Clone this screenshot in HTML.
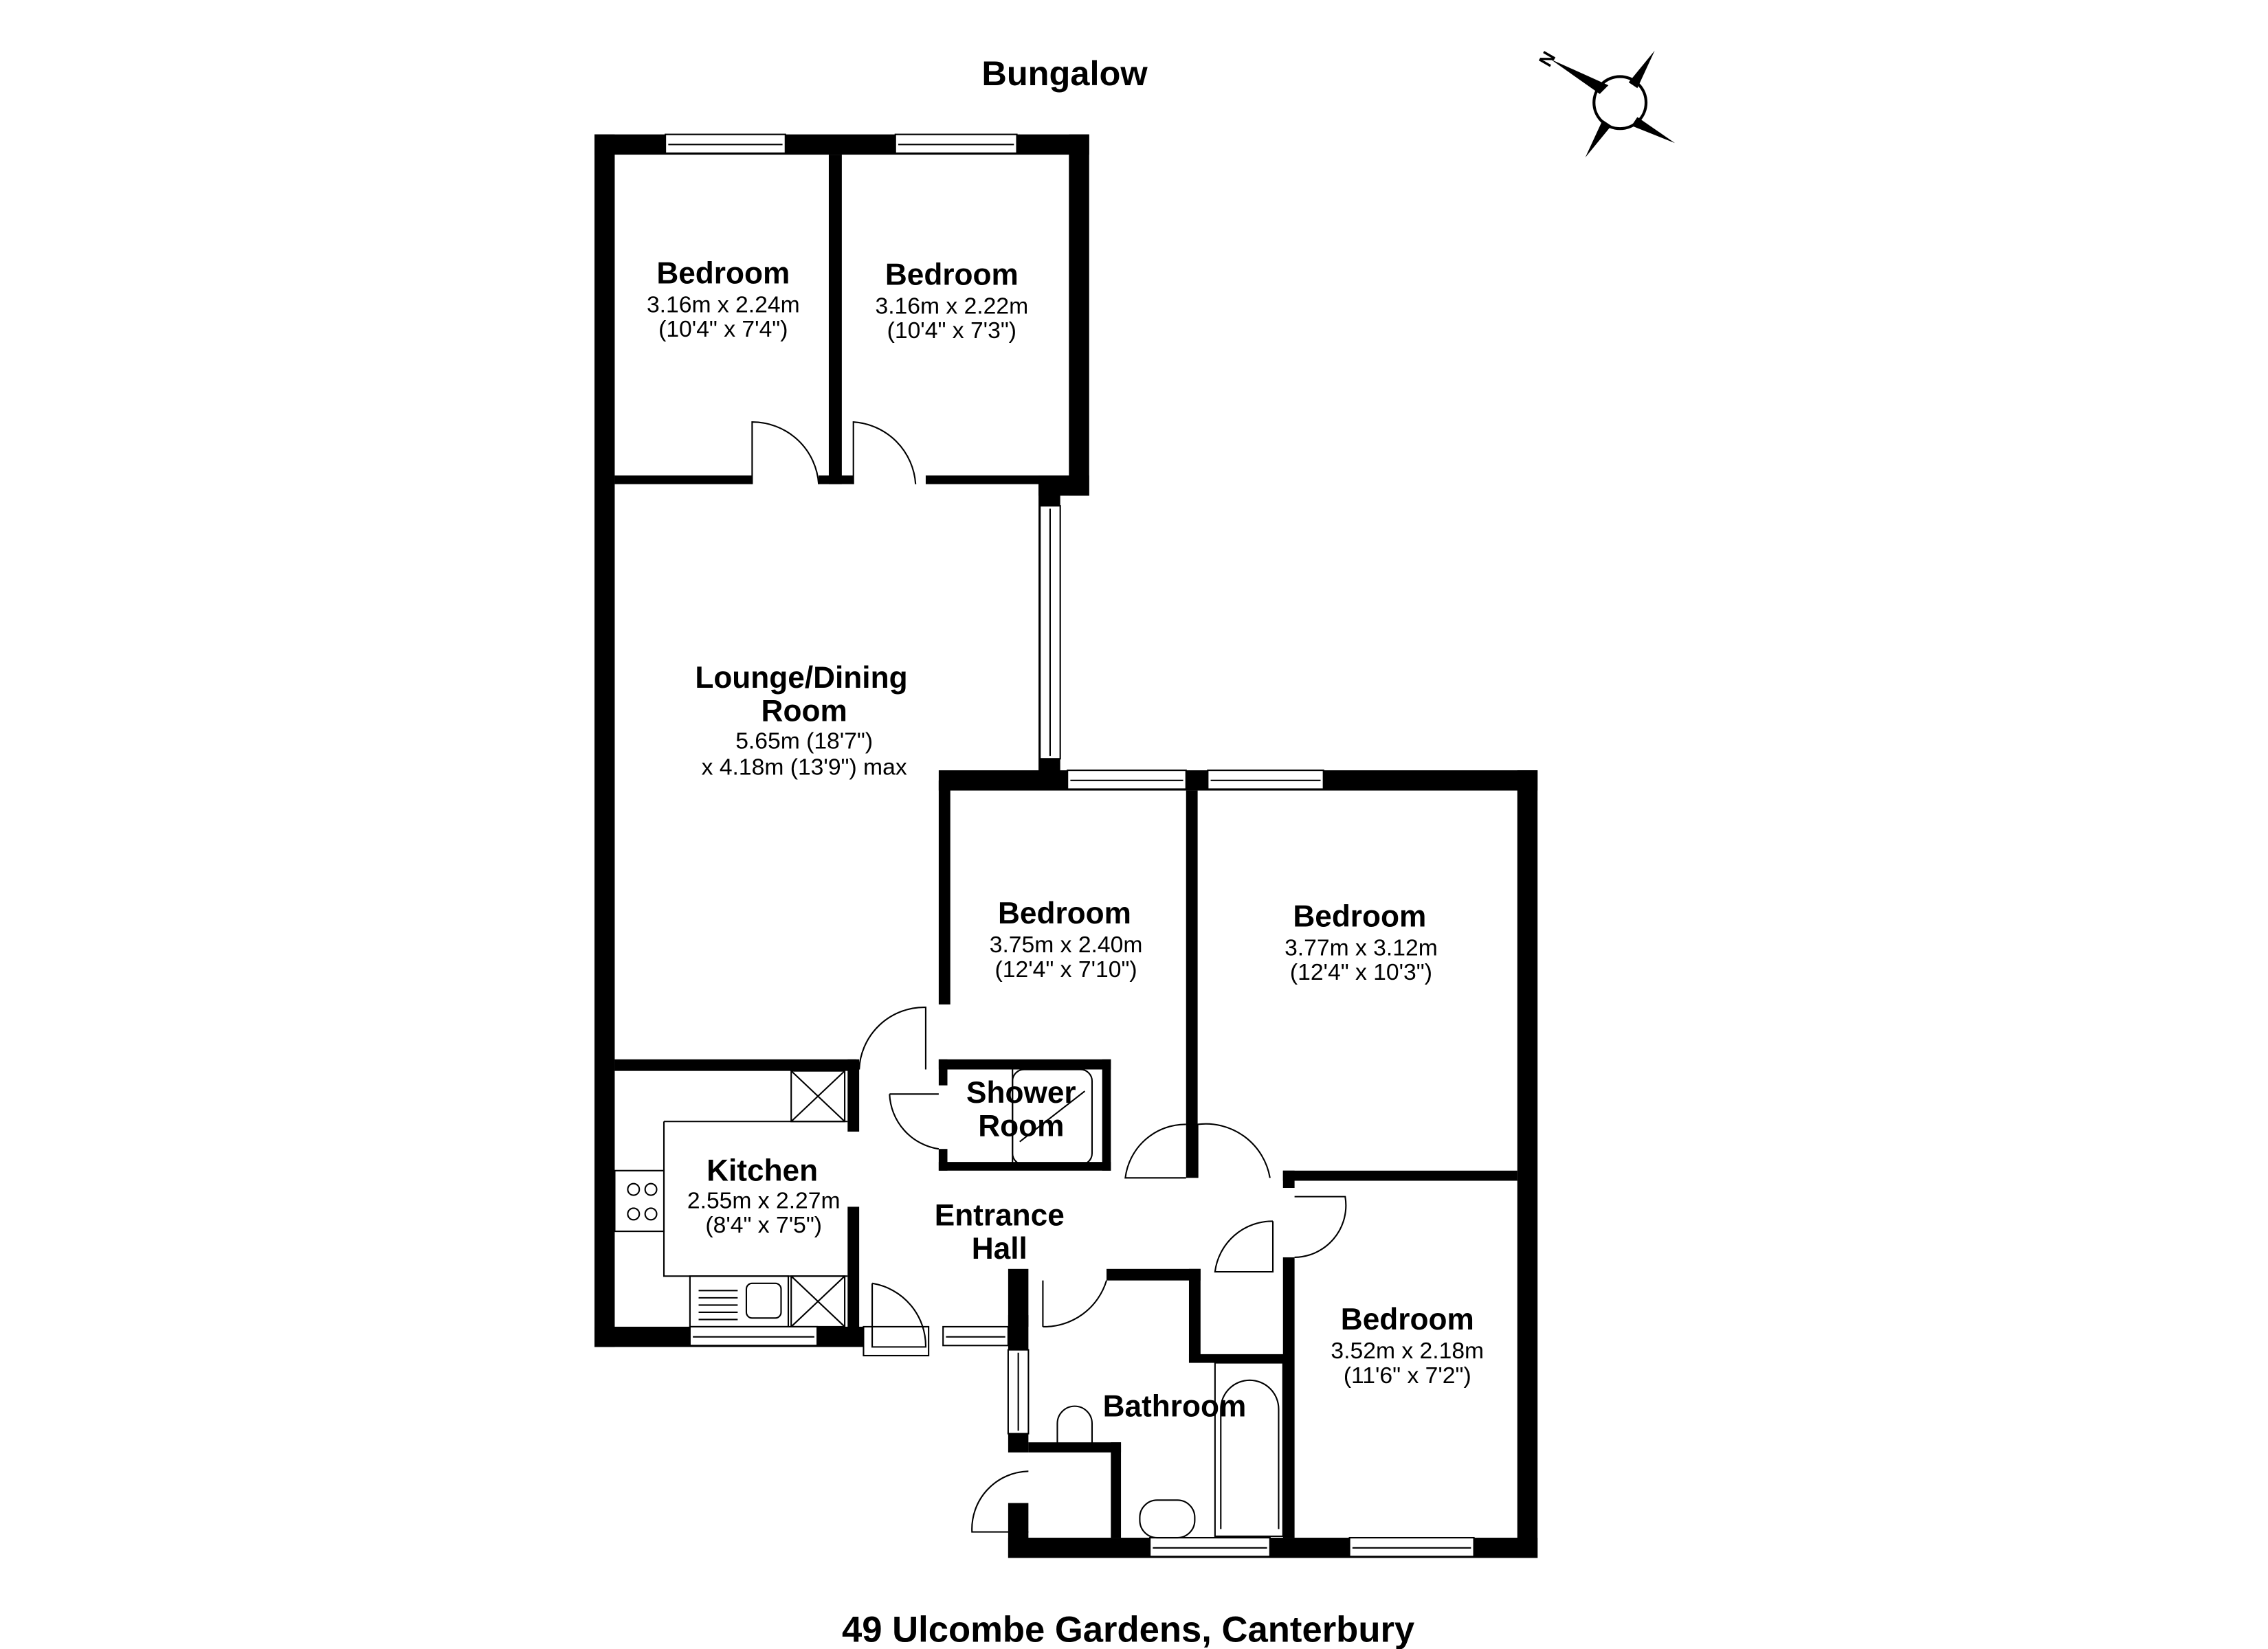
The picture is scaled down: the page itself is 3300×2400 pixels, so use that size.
<!DOCTYPE html>
<html><head><meta charset="utf-8"><style>
html,body{margin:0;padding:0;background:#fff}
svg{display:block}
text{font-family:"Liberation Sans",Arial,sans-serif;text-anchor:middle;fill:#000}
.t{font-weight:bold;font-size:21px}
.d{font-size:16px}
.w{fill:#fff;stroke:#000;stroke-width:1}
.a{fill:none;stroke:#000;stroke-width:1}
</style></head><body>
<svg width="3300" height="2400" viewBox="0 0 1568 1141" preserveAspectRatio="none" xmlns="http://www.w3.org/2000/svg">
<rect width="1568" height="1141" fill="#fff"/>
<text x="736" y="59" style="font-weight:bold;font-size:24px">Bungalow</text>
<text x="780" y="1136" style="font-weight:bold;font-size:25px">49 Ulcombe Gardens, Canterbury</text>
<g transform="translate(1120,71)">
<circle r="18" fill="#fff" stroke="#000" stroke-width="2"/>
<polygon points="-48,-30 -14,-6 -8,-12" fill="#000"/>
<polygon points="24,-36 12,-10 6,-14" fill="#000"/>
<polygon points="38,28 12,10 8,16" fill="#000"/>
<polygon points="-24,38 -12,12 -6,16" fill="#000"/>
<text x="-50" y="-26" style="font-size:13px;font-weight:bold" transform="rotate(-60 -50 -30)">N</text>
</g>
<g fill="#000">
<rect x="411" y="93" width="342" height="14"/>
<rect x="411" y="93" width="14" height="839"/>
<rect x="739" y="93" width="14" height="250"/>
<rect x="718" y="329" width="35" height="14"/>
<rect x="718" y="329" width="15" height="216"/>
<rect x="649" y="533" width="414" height="14"/>
<rect x="1049" y="533" width="14" height="545"/>
<rect x="697" y="1064" width="366" height="14"/>
<rect x="411" y="918" width="187" height="14"/>
<rect x="697" y="910" width="14" height="95"/>
<rect x="697" y="1040" width="14" height="38"/>
<rect x="573" y="107" width="9" height="228"/>
<rect x="425" y="329" width="95" height="6"/>
<rect x="640" y="329" width="99" height="6"/>
<rect x="566" y="329" width="24" height="6"/>
<rect x="649" y="540" width="8" height="155"/>
<rect x="425" y="733" width="167" height="8"/>
<rect x="586" y="733" width="8" height="50"/>
<rect x="586" y="835" width="8" height="85"/>
<rect x="649" y="733" width="119" height="7"/>
<rect x="649" y="733" width="6" height="18"/>
<rect x="649" y="795" width="6" height="15"/>
<rect x="762" y="733" width="6" height="77"/>
<rect x="649" y="804" width="119" height="6"/>
<rect x="820" y="547" width="8" height="268"/>
<rect x="887" y="810" width="162" height="7"/>
<rect x="887" y="810" width="8" height="12"/>
<rect x="887" y="870" width="8" height="194"/>
<rect x="765" y="878" width="65" height="8"/>
<rect x="697" y="878" width="14" height="40"/>
<rect x="822" y="878" width="8" height="65"/>
<rect x="822" y="937" width="71" height="6"/>
<rect x="711" y="998" width="64" height="7"/>
<rect x="768" y="998" width="7" height="66"/>
</g>
<g>
<rect class="w" x="460" y="93" width="83" height="13"/><line class="a" x1="462" y1="100" x2="541" y2="100"/>
<rect class="w" x="619" y="93" width="84" height="13"/><line class="a" x1="621" y1="100" x2="701" y2="100"/>
<rect class="w" x="719" y="350" width="14" height="175"/><line class="a" x1="726" y1="352" x2="726" y2="523"/>
<rect class="w" x="738" y="533" width="82" height="13"/><line class="a" x1="740" y1="540" x2="818" y2="540"/>
<rect class="w" x="835" y="533" width="80" height="13"/><line class="a" x1="837" y1="540" x2="913" y2="540"/>
<rect class="w" x="477" y="918" width="88" height="13"/><line class="a" x1="479" y1="925" x2="563" y2="925"/>
<rect class="w" x="652" y="918" width="45" height="13"/><line class="a" x1="654" y1="925" x2="695" y2="925"/>
<rect class="w" x="597" y="918" width="45" height="20"/>
<rect class="w" x="697" y="934" width="14" height="58"/><line class="a" x1="704" y1="936" x2="704" y2="990"/>
<rect class="w" x="795" y="1064" width="83" height="13"/><line class="a" x1="797" y1="1071" x2="876" y2="1071"/>
<rect class="w" x="933" y="1064" width="86" height="13"/><line class="a" x1="935" y1="1071" x2="1017" y2="1071"/>
</g>
<g class="a">
<path d="M520 335 V292 A46 46 0 0 1 566 335"/>
<path d="M590 335 V292 A46 46 0 0 1 633 335"/>
<path d="M640 740 V697 A45 45 0 0 0 594 740"/>
<path d="M615 757 H649 M615 757 A40 40 0 0 0 649 795"/>
<path d="M820 815 H778 A42 42 0 0 1 820 778"/>
<path d="M828 815 V778 A45 45 0 0 1 878 815"/>
<path d="M895 828 H930 A36 36 0 0 1 895 870"/>
<path d="M880 845 V880 H840 A40 40 0 0 1 880 845"/>
<path d="M721 918 V886 M721 918 A45 45 0 0 0 765 886"/>
<path d="M603 888 V932 H640 A44 44 0 0 0 603 888"/>
<path d="M711 1060 H672 A40 40 0 0 1 711 1018"/>
</g>
<g class="a">
<path d="M459 776 H586 M459 776 V883 H586"/>
<rect x="547" y="741" width="37" height="35"/><path d="M547 741 L584 776 M584 741 L547 776"/>
<rect x="547" y="883" width="37" height="35"/><path d="M547 883 L584 918 M584 883 L547 918"/>
<rect x="477" y="883" width="68" height="35"/>
<rect x="516" y="888" width="24" height="24" rx="4"/>
<path d="M483 893 H510 M483 898 H510 M483 903 H510 M483 908 H510 M483 913 H510"/>
<rect x="425" y="810" width="34" height="42"/>
<circle cx="438" cy="823" r="4"/><circle cx="450" cy="823" r="4"/>
<circle cx="438" cy="840" r="4"/><circle cx="450" cy="840" r="4"/>
<rect x="700" y="740" width="55" height="66" rx="8"/>
<path d="M700 740 V806 M705 790 L750 755"/>
<rect x="840" y="943" width="47" height="120"/>
<path d="M844 1058 V975 A20 20 0 0 1 884 975 V1058"/>
<rect x="788" y="1038" width="38" height="26" rx="12"/>
<path d="M731 985 A12 12 0 0 1 755 985 V1000 H731 Z"/>
</g>
<text class="t" x="500" y="196">Bedroom</text>
<text class="d" x="500" y="216">3.16m x 2.24m</text>
<text class="d" x="500" y="233">(10'4" x 7'4")</text>
<text class="t" x="658" y="197">Bedroom</text>
<text class="d" x="658" y="217">3.16m x 2.22m</text>
<text class="d" x="658" y="234">(10'4" x 7'3")</text>
<text class="t" x="554" y="476">Lounge/Dining</text>
<text class="t" x="556" y="499">Room</text>
<text class="d" x="556" y="518">5.65m (18'7")</text>
<text class="d" x="556" y="536">x 4.18m (13'9") max</text>
<text class="t" x="736" y="639">Bedroom</text>
<text class="d" x="737" y="659">3.75m x 2.40m</text>
<text class="d" x="737" y="676">(12'4" x 7'10")</text>
<text class="t" x="940" y="641">Bedroom</text>
<text class="d" x="941" y="661">3.77m x 3.12m</text>
<text class="d" x="941" y="678">(12'4" x 10'3")</text>
<text class="t" x="706" y="763">Shower</text>
<text class="t" x="706" y="786">Room</text>
<text class="t" x="527" y="817">Kitchen</text>
<text class="d" x="528" y="836">2.55m x 2.27m</text>
<text class="d" x="528" y="853">(8'4" x 7'5")</text>
<text class="t" x="691" y="848">Entrance</text>
<text class="t" x="691" y="871">Hall</text>
<text class="t" x="973" y="920">Bedroom</text>
<text class="d" x="973" y="940">3.52m x 2.18m</text>
<text class="d" x="973" y="957">(11'6" x 7'2")</text>
<text class="t" x="812" y="980">Bathroom</text>
</svg>
</body></html>
